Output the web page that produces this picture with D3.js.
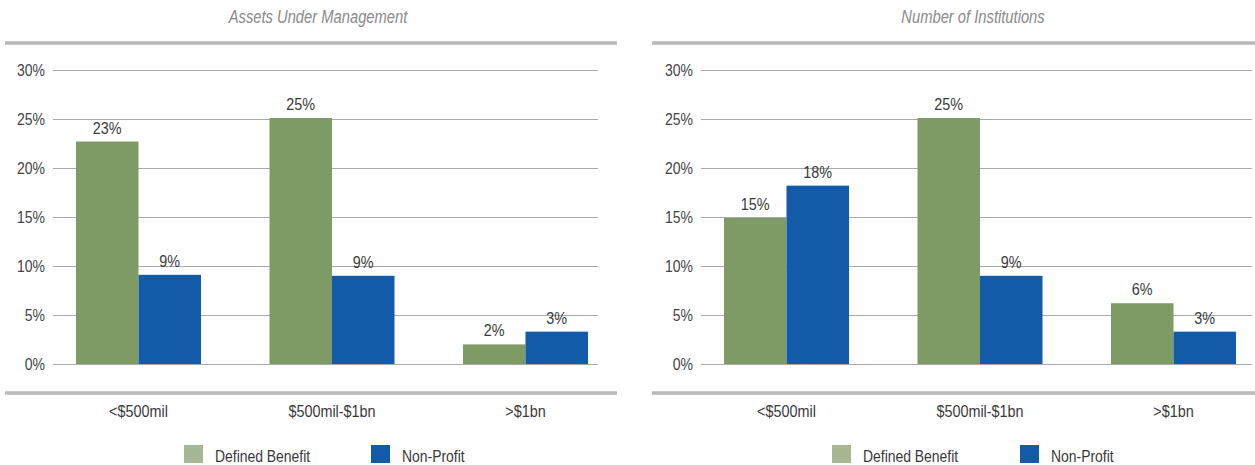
<!DOCTYPE html>
<html>
<head>
<meta charset="utf-8">
<script src="https://cdn.jsdelivr.net/npm/d3@7"></script>
<style>
  html, body { margin: 0; padding: 0; background: #fff; }
  svg { display: block; font-family: "Liberation Sans", Arial, sans-serif; }
</style>
</head>
<body>
<svg id="chart" width="1255" height="465"></svg>
<script>
// Categories, series and values (percent of total)
const categories = ["<$500mil", "$500mil-$1bn", ">$1bn"];
const seriesNames = ["Defined Benefit", "Non-Profit"];
const aumDefinedBenefit = [22.7, 25.1, 2.0];
const aumNonProfit = [9.1, 9.0, 3.3];
const instDefinedBenefit = [14.9, 25.1, 6.2];
const instNonProfit = [18.2, 9.0, 3.3];
const yTicks = [0, 5, 10, 15, 20, 25, 30];
const panelTitles = ["Assets Under Management", "Number of Institutions"];

const barColors = ["#7e9b66", "#135ba9"];
const legendColors = ["#a6b893", "#135ba9"];

const svg = d3.select("#chart");

const y = d3.scaleLinear().domain([0, 30]).range([364, 70]);

// narrow lettering: draw text at the origin, then move and squeeze it horizontally
function narrowText(parent, x, yy, k, str) {
  return parent.append("text")
    .attr("transform", `translate(${x},${yy}) scale(${k},1)`)
    .text(str);
}

function drawPanel(opts) {
  const g = svg.append("g");

  // title
  narrowText(g, opts.titleX, 23, 0.82, opts.title)
    .attr("text-anchor", "middle")
    .attr("font-size", 18).attr("font-style", "italic")
    .attr("fill", "#8a8a8c");

  // heavy rules above and below the plot
  [43, 393].forEach(ry => {
    g.append("line")
      .attr("x1", opts.ruleLeft).attr("x2", opts.ruleRight)
      .attr("y1", ry).attr("y2", ry)
      .attr("stroke", "#b9b9bc").attr("stroke-width", 3.5);
  });

  // y axis with gridlines
  const kTick = 0.875;
  const yAxis = d3.axisLeft(y)
    .tickValues(yTicks)
    .tickSize(-(opts.gridRight - opts.gridLeft))
    .tickPadding(8)
    .tickFormat(d => d + "%");
  const ya = g.append("g")
    .attr("transform", `translate(${opts.gridLeft},0)`)
    .call(yAxis);
  ya.select(".domain").remove();
  ya.selectAll(".tick line").attr("stroke", "#a9a9ab").attr("stroke-width", 1);
  ya.selectAll(".tick text")
    .attr("font-size", 16).attr("fill", "#444")
    .attr("font-family", null)
    .attr("x", -8 / kTick)
    .attr("transform", `scale(${kTick},1)`);

  // band scales
  const x0 = d3.scaleBand().domain(categories)
    .range([opts.barLeft, opts.barRight])
    .paddingInner(0.354).paddingOuter(0);
  const x1 = d3.scaleBand().domain(seriesNames)
    .range([0, x0.bandwidth()]);

  const rows = categories.map((c, i) => ({
    cat: c,
    vals: seriesNames.map((s, j) => ({ s, j, v: opts.series[j][i] }))
  }));

  const groups = g.selectAll("g.grp").data(rows).join("g")
    .attr("class", "grp")
    .attr("transform", d => `translate(${x0(d.cat)},0)`);

  groups.selectAll("rect").data(d => d.vals).join("rect")
    .attr("x", d => x1(d.s))
    .attr("width", x1.bandwidth())
    .attr("y", d => y(d.v))
    .attr("height", d => y(0) - y(d.v))
    .attr("fill", d => barColors[d.j]);

  const fmt = d3.format(".0f");
  groups.selectAll("text.val").data(d => d.vals).join("text")
    .attr("class", "val")
    .attr("transform", d => `translate(${x1(d.s) + x1.bandwidth() / 2},${y(d.v) - 8}) scale(0.9,1)`)
    .attr("text-anchor", "middle")
    .attr("font-size", 16).attr("fill", "#3a3a3a")
    .text(d => fmt(d.v) + "%");

  // category labels
  g.selectAll("text.cat").data(categories).join("text")
    .attr("class", "cat")
    .attr("transform", d => `translate(${x0(d) + x0.bandwidth() / 2},417) scale(0.9,1)`)
    .attr("text-anchor", "middle")
    .attr("font-size", 16).attr("fill", "#3a3a3a")
    .text(d => d);

  // legend
  seriesNames.forEach((s, j) => {
    const lx = opts.legendX[j];
    g.append("rect")
      .attr("x", lx).attr("y", 445)
      .attr("width", 19).attr("height", 18)
      .attr("fill", legendColors[j]);
    narrowText(g, lx + 31, 462, 0.87, s)
      .attr("font-size", 16).attr("fill", "#3a3a3a");
  });
}

drawPanel({
  title: panelTitles[0], titleX: 318,
  ruleLeft: 5, ruleRight: 617,
  gridLeft: 53, gridRight: 598,
  barLeft: 76, barRight: 588,
  series: [aumDefinedBenefit, aumNonProfit],
  legendX: [184, 371]
});

drawPanel({
  title: panelTitles[1], titleX: 973,
  ruleLeft: 652, ruleRight: 1255,
  gridLeft: 701, gridRight: 1252,
  barLeft: 724, barRight: 1236,
  series: [instDefinedBenefit, instNonProfit],
  legendX: [832, 1020]
});
</script>
</body>
</html>
